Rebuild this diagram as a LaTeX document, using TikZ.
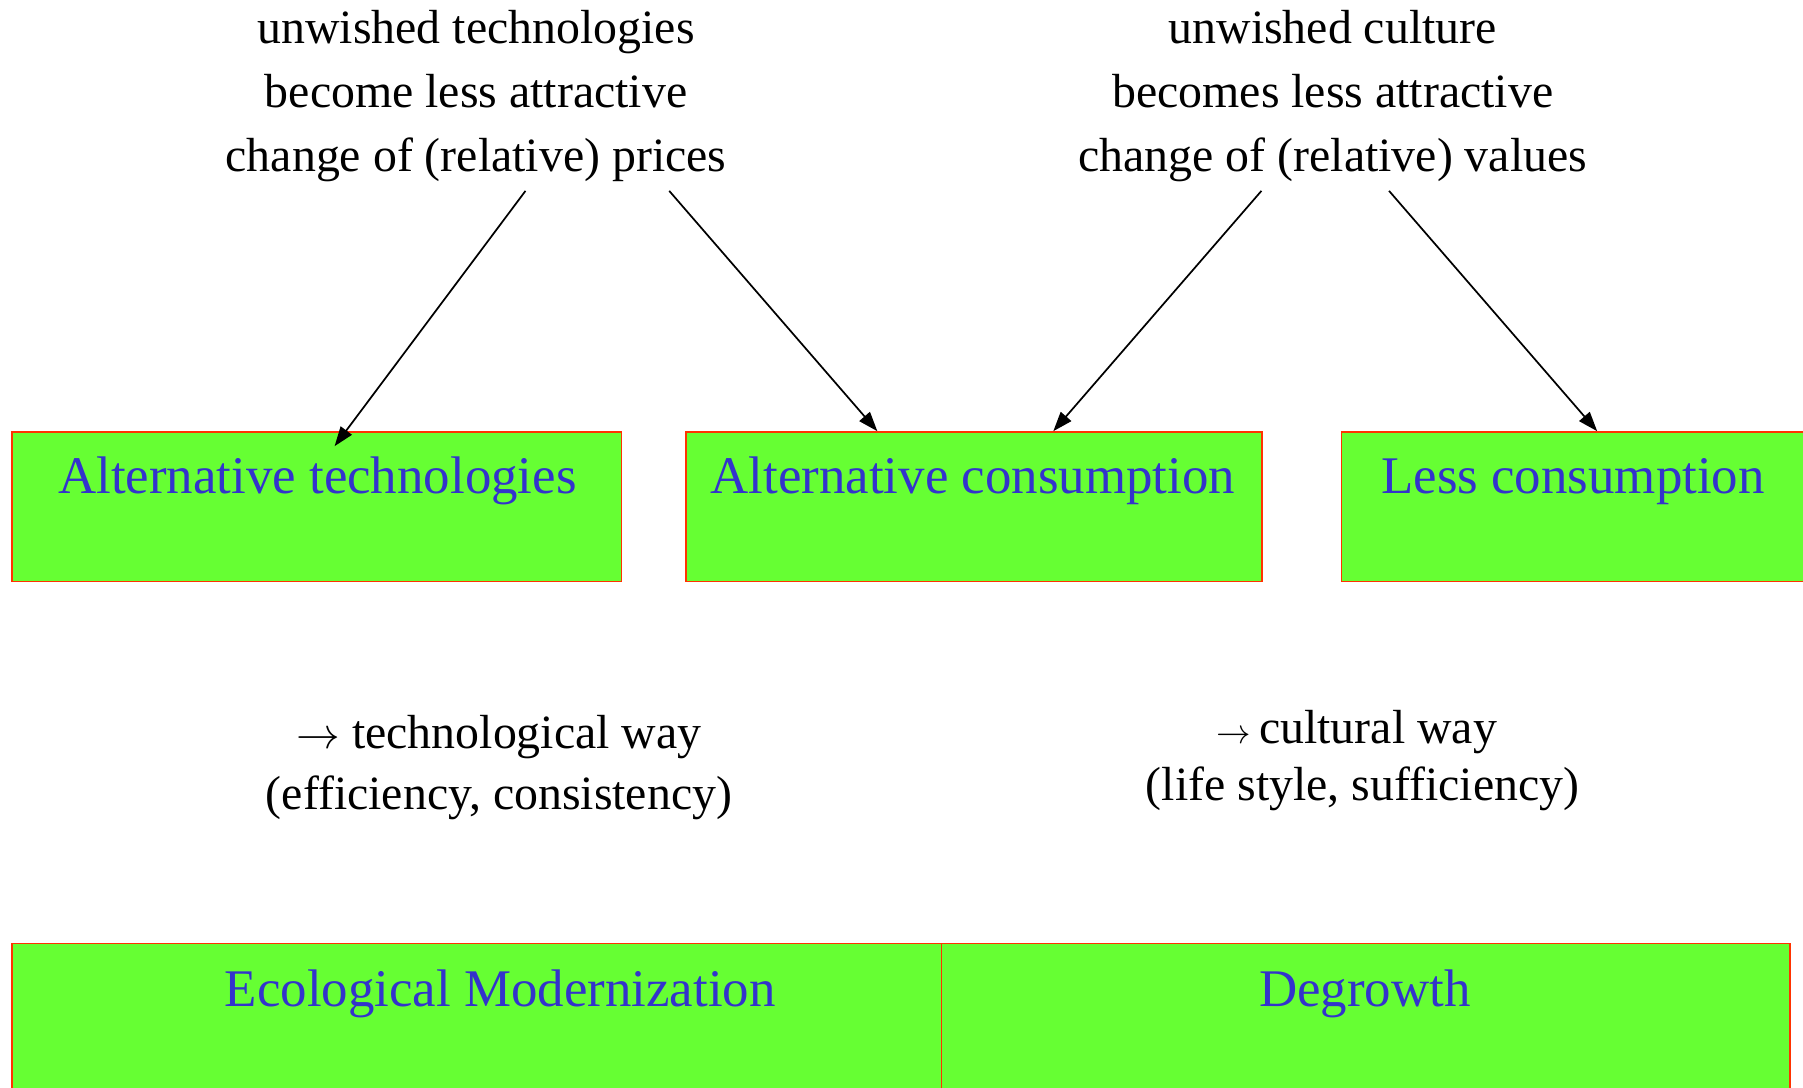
\RequirePackage{fix-cm}
\documentclass[tikz,border=0pt]{standalone}
\usepackage{fontspec}
\setmainfont{Liberation Serif}
\usetikzlibrary{arrows.meta,calc}
\definecolor{boxgreen}{HTML}{66FF33}
\definecolor{boxblue}{HTML}{3333CC}
\definecolor{boxred}{HTML}{FF3300}
\begin{document}
\begin{tikzpicture}[x=1pt,y=-1pt,
  txt/.style={font=\fontsize{41.6}{50}\selectfont, anchor=base, inner sep=0pt},
  boxlabel/.style={font=\fontsize{46}{55}\selectfont, text=boxblue, anchor=base, inner sep=0pt},
  box/.style={draw=boxred, fill=boxgreen, line width=1.3pt, anchor=north west, inner sep=0pt},
  arr/.style={line width=1.5pt, -{Triangle[length=17pt,width=12pt]}}]
\useasboundingbox (0,0) rectangle (1568,946);
\clip (0,0) rectangle (1568,946);

% boxes
\node[box, minimum width=530pt, minimum height=130pt] (alttech) at (10,375) {};
\node[box, minimum width=501pt, minimum height=130pt] (altcons) at (596,375) {};
\node[box, minimum width=420pt, minimum height=130pt] (lesscons) at (1166,375) {};
\node[box, minimum width=808pt, minimum height=150pt] (ecomod) at (10,820) {};
\node[box, minimum width=738pt, minimum height=150pt] (degrowth) at (818,820) {};

\node[boxlabel] (l1) at (276,429) {Alternative technologies};
\node[boxlabel] (l2) at (846,429) {Alternative consumption};
\node[boxlabel] (l3) at (1368,429) {Less consumption};
\node[boxlabel] (l4) at (435,875) {Ecological Modernization};
\node[boxlabel] (l5) at (1187,875) {Degrowth};

% top texts
\node[txt] (tl1) at (414,38) {unwished technologies};
\node[txt] (tl2) at (414,93.5) {become less attractive};
\node[txt] (tl3) at (414,149) {change of (relative) prices};
\node[txt] (tr1) at (1159,38) {unwished culture};
\node[txt] (tr2) at (1159,93.5) {becomes less attractive};
\node[txt] (tr3) at (1159,149) {change of (relative) values};

% middle texts
\node[txt] (ml1) at (434,651) {{\fontsize{38}{40}\selectfont$\rightarrow$} technological way};
\node[txt] (ml2) at (434,704) {(efficiency, consistency)};
\node[txt] (mr1) at (1180,647) {{\fontsize{30}{30}\selectfont$\rightarrow$}\,cultural way};
\node[txt] (mr2) at (1185,696) {(life style, sufficiency)};

% arrows
\coordinate (s1) at (457,166);
\coordinate (s2) at (582,166);
\coordinate (s3) at (1097,166);
\coordinate (s4) at (1208,166);
\draw[arr] (s1) -- ($(alttech.north west)+(281,13)$);
\draw[arr] (s2) -- ($(altcons.north west)+(167,0)$);
\draw[arr] (s3) -- ($(altcons.north west)+(320,0)$);
\draw[arr] (s4) -- ($(lesscons.north west)+(223,0)$);
\end{tikzpicture}
\end{document}
